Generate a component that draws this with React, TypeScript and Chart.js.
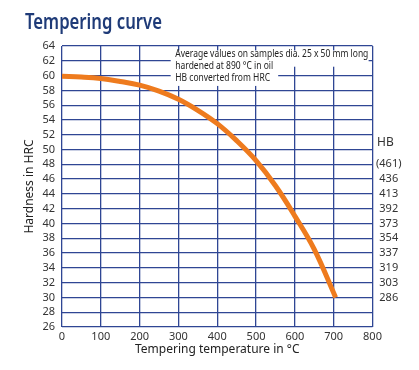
import React, { useEffect, useRef } from "react";
import { Chart, registerables } from "chart.js";

Chart.register(...registerables);

const temperatures = [0, 50, 100, 150, 200, 250, 300, 350, 400, 450, 500, 550, 600, 650, 705];
const hardnessHrc = [59.9, 59.8, 59.6, 59.2, 58.7, 57.9, 56.8, 55.3, 53.5, 51.2, 48.5, 45.1, 41.0, 36.5, 30.0];

const hbAtHrc = [48, 46, 44, 42, 40, 38, 36, 34, 32, 30];
const hbLabels = ["(461)", "436", "413", "392", "373", "354", "337", "319", "303", "286"];

const noteLines = [
  "Average values on samples dia. 25 x 50 mm long",
  "hardened at 890 °C in oil",
  "HB converted from HRC",
];

const titleText = "Tempering curve";

const GRID = "#2f4694";
const FONT = '"Noto Sans", "Open Sans", sans-serif';

const decorPlugin = {
  id: "decor",
  afterDraw(chart: any) {
    const ctx = chart.ctx as CanvasRenderingContext2D;
    const area = chart.chartArea;
    const xs = chart.scales.x;
    const ys = chart.scales.y;
    ctx.save();
    // title
    ctx.font = `600 21px ${FONT}`;
    ctx.fillStyle = "#1f3b78";
    ctx.textBaseline = "alphabetic";
    ctx.textAlign = "left";
    const tw = ctx.measureText(titleText).width;
    const ts = 137 / tw;
    ctx.save();
    ctx.translate(25, 29);
    ctx.scale(ts, 1);
    ctx.fillText(titleText, 0, 0);
    ctx.restore();

    // note boxes (white background masking the grid)
    const x0 = xs.getPixelForValue(280);
    ctx.fillStyle = "#ffffff";
    ctx.fillRect(x0, ys.getPixelForValue(63.4), xs.getPixelForValue(790) - x0, ys.getPixelForValue(61.2) - ys.getPixelForValue(63.4));
    ctx.fillRect(x0, ys.getPixelForValue(61.2), xs.getPixelForValue(557) - x0, ys.getPixelForValue(58.6) - ys.getPixelForValue(61.2));

    ctx.font = `11.5px ${FONT}`;
    ctx.fillStyle = "#222222";
    ctx.textBaseline = "middle";
    const w1 = ctx.measureText(noteLines[0]).width;
    const ns = 193 / w1;
    const lineY = [62.9, 61.3, 59.7];
    const tx = xs.getPixelForValue(292);
    noteLines.forEach((t, i) => {
      ctx.save();
      ctx.translate(tx, ys.getPixelForValue(lineY[i]));
      ctx.scale(ns, 1);
      ctx.fillText(t, 0, 0);
      ctx.restore();
    });

    // HB header for the right axis
    ctx.font = `12px ${FONT}`;
    ctx.fillStyle = "#333333";
    ctx.textAlign = "left";
    ctx.fillText("HB", area.right + 4.5, ys.getPixelForValue(50.9));
    ctx.restore();
  },
};

export default function App() {
  const ref = useRef<HTMLCanvasElement | null>(null);
  useEffect(() => {
    if (!ref.current) return;
    const points = temperatures.map((t, i) => ({ x: t, y: hardnessHrc[i] }));
    const tickFont = { family: FONT, size: 11 };
    const chart = new Chart(ref.current, {
      type: "line",
      data: {
        datasets: [
          {
            data: points,
            borderColor: "#ee7b1e",
            borderWidth: 5,
            pointRadius: 0,
            tension: 0.4,
            borderCapStyle: "butt",
            borderJoinStyle: "round",
            fill: false,
          },
        ],
      },
      options: {
        animation: false,
        responsive: false,
        devicePixelRatio: 1,
        layout: { padding: { top: 46, left: 0, right: 0, bottom: 0 } },
        plugins: { legend: { display: false }, tooltip: { enabled: false }, title: { display: false } },
        scales: {
          x: {
            type: "linear",
            min: 0,
            max: 800,
            ticks: { stepSize: 100, color: "#333", font: tickFont, padding: 3, maxRotation: 0, autoSkip: false },
            grid: { color: GRID, lineWidth: 1.3, drawTicks: false },
            border: { display: false },
            title: {
              display: true,
              text: "Tempering temperature in °C",
              color: "#222",
              font: { family: FONT, size: 12 },
              padding: { top: 0, bottom: 12.8 },
            },
            afterFit: (s: any) => {
              s.height = 43;
            },
          },
          y: {
            position: "left",
            min: 26,
            max: 64,
            ticks: { stepSize: 2, color: "#333", font: tickFont, padding: 7, autoSkip: false },
            grid: { color: GRID, lineWidth: 1.3, drawTicks: false },
            border: { display: false },
            title: {
              display: true,
              text: "Hardness in HRC",
              color: "#222",
              font: { family: FONT, size: 12 },
              padding: { top: 22.8, bottom: 0 },
            },
            afterFit: (s: any) => {
              s.width = 62;
            },
          },
          y2: {
            position: "right",
            min: 26,
            max: 64,
            ticks: {
              stepSize: 2,
              autoSkip: false,
              color: "#333",
              font: tickFont,
              padding: 3.5,
              crossAlign: "center",
              callback: (v: any) => {
                const i = hbAtHrc.indexOf(Number(v));
                return i >= 0 ? hbLabels[i] : "";
              },
            },
            grid: { display: false, drawTicks: false },
            border: { display: false },
            afterFit: (s: any) => {
              s.width = 46.5;
            },
          },
        },
      } as any,
      plugins: [decorPlugin],
    });
    return () => chart.destroy();
  }, []);
  return (
    <div style={{ position: "fixed", left: 0, top: 0, width: 419, height: 370, background: "#fff" }}>
      <canvas ref={ref} width={419} height={370} style={{ display: "block" }} />
    </div>
  );
}
